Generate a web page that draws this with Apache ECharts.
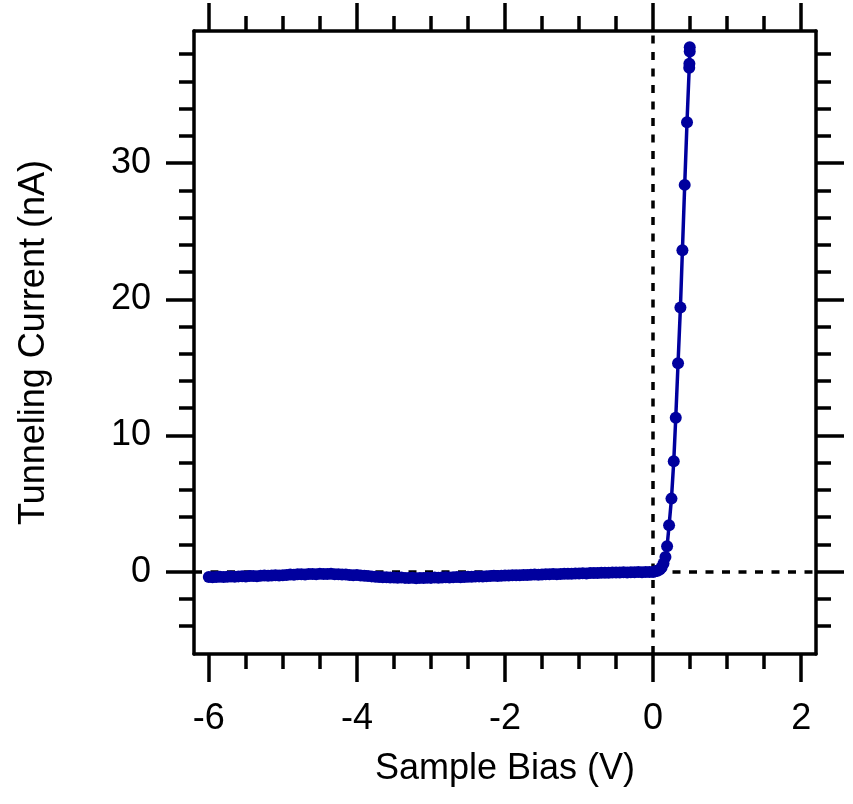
<!DOCTYPE html>
<html><head><meta charset="utf-8">
<script src="https://cdn.jsdelivr.net/npm/echarts@6/dist/echarts.min.js"></script>
<style>html,body{margin:0;padding:0;background:#fff}#c{width:853px;height:804px}</style>
</head><body><div id="c"></div>
<script>
// Sample bias (V) and tunneling current (nA)
const biasFlat = [
  -6.00,-5.95,-5.90,-5.85,-5.80,-5.75,-5.70,-5.65,-5.60,-5.55,-5.50,
  -5.45,-5.40,-5.35,-5.30,-5.25,-5.20,-5.15,-5.10,-5.05,-5.00,
  -4.95,-4.90,-4.85,-4.80,-4.75,-4.70,-4.65,-4.60,-4.55,-4.50,
  -4.45,-4.40,-4.35,-4.30,-4.25,-4.20,-4.15,-4.10,-4.05,-4.00,
  -3.95,-3.90,-3.85,-3.80,-3.75,-3.70,-3.65,-3.60,-3.55,-3.50,
  -3.45,-3.40,-3.35,-3.30,-3.25,-3.20,-3.15,-3.10,-3.05,-3.00,
  -2.95,-2.90,-2.85,-2.80,-2.75,-2.70,-2.65,-2.60,-2.55,-2.50,
  -2.45,-2.40,-2.35,-2.30,-2.25,-2.20,-2.15,-2.10,-2.05,-2.00,
  -1.95,-1.90,-1.85,-1.80,-1.75,-1.70,-1.65,-1.60,-1.55,-1.50,
  -1.45,-1.40,-1.35,-1.30,-1.25,-1.20,-1.15,-1.10,-1.05,-1.00,
  -0.95,-0.90,-0.85,-0.80,-0.75,-0.70,-0.65,-0.60,-0.55,-0.50,
  -0.45,-0.40,-0.35,-0.30,-0.25,-0.20,-0.15,-0.10,-0.05,0.00
];
const currentFlat = [
  -0.40,-0.41,-0.39,-0.38,-0.40,-0.37,-0.36,-0.38,-0.35,-0.34,-0.36,
  -0.33,-0.32,-0.34,-0.30,-0.29,-0.31,-0.28,-0.27,-0.29,-0.26,
  -0.24,-0.22,-0.23,-0.20,-0.19,-0.21,-0.18,-0.17,-0.19,-0.16,
  -0.17,-0.18,-0.16,-0.19,-0.20,-0.22,-0.21,-0.24,-0.26,-0.25,
  -0.28,-0.30,-0.33,-0.35,-0.38,-0.40,-0.42,-0.41,-0.44,-0.43,
  -0.45,-0.44,-0.46,-0.47,-0.45,-0.48,-0.46,-0.47,-0.45,-0.46,
  -0.44,-0.45,-0.43,-0.42,-0.44,-0.41,-0.40,-0.42,-0.39,-0.38,
  -0.37,-0.36,-0.35,-0.36,-0.34,-0.33,-0.31,-0.32,-0.30,-0.29,
  -0.28,-0.27,-0.26,-0.27,-0.25,-0.24,-0.23,-0.22,-0.23,-0.21,
  -0.20,-0.19,-0.18,-0.19,-0.17,-0.16,-0.15,-0.16,-0.14,-0.13,
  -0.12,-0.13,-0.11,-0.10,-0.11,-0.09,-0.08,-0.09,-0.07,-0.06,
  -0.07,-0.05,-0.06,-0.04,-0.05,-0.03,-0.04,-0.02,-0.03,-0.02
];
const biasRise = [0.03,0.06,0.09,0.115,0.14,0.167,0.189,0.216,0.248,0.279,0.306,0.337,0.369,0.396,0.427,0.458,0.488,0.490,0.495,0.495];
const currentRise = [0.02,0.07,0.15,0.30,0.60,1.07,1.86,3.40,5.36,8.10,11.3,15.3,19.4,23.6,28.4,33.0,37.0,37.3,38.2,38.5];

const xMajorTicks = [-6,-4,-2,0,2];
const xMinorTicks = [-5.5,-5,-4.5,-3.5,-3,-2.5,-1.5,-1,-0.5,0.5,1,1.5];
const yMajorTicks = [0,10,20,30];
const yMinorTicks = [-4,-2,2,4,6,8,12,14,16,18,22,24,26,28,32,34,36,38];
const xRange = [-6.2, 2.2];
const yRange = [-6.05, 39.7];
const xTitle = 'Sample Bias (V)';
const yTitle = 'Tunneling Current (nA)';

const FONT = '"Liberation Sans", Arial, Helvetica, sans-serif';
const INK = '#000';
const BLUE = '#00009E';
const LW = 3.5;

const seriesData = biasFlat.map((b, i) => [b, currentFlat[i]])
  .concat(biasRise.map((b, i) => [b, currentRise[i]]));

const gridRect = {left: 194, right: 37, top: 31, bottom: 150, outerBoundsMode: 'none', containLabel: false};

function xAxisDef(gridIndex, position, major) {
  return {
    type: 'value', gridIndex, position, min: xRange[0], max: xRange[1],
    axisLine: {show: major, onZero: false, lineStyle: {color: INK, width: LW}},
    axisTick: {show: true, inside: false, length: major ? 28 : 15, customValues: major ? xMajorTicks : xMinorTicks,
               lineStyle: {color: INK, width: LW}},
    axisLabel: (major && position === 'bottom') ? {show: true, customValues: xMajorTicks, margin: 47,
               color: INK, fontSize: 36, fontFamily: FONT} : {show: false},
    splitLine: {show: false},
    name: (major && position === 'bottom') ? xTitle : '',
    nameLocation: 'middle', nameGap: 97,
    nameTextStyle: {color: INK, fontSize: 36, fontFamily: FONT}
  };
}
function yAxisDef(gridIndex, position, major) {
  return {
    type: 'value', gridIndex, position, min: yRange[0], max: yRange[1],
    axisLine: {show: major, onZero: false, lineStyle: {color: INK, width: LW}},
    axisTick: {show: true, inside: false, length: major ? 28 : 15, customValues: major ? yMajorTicks : yMinorTicks,
               lineStyle: {color: INK, width: LW}},
    axisLabel: (major && position === 'left') ? {show: true, customValues: yMajorTicks, margin: 43,
               color: INK, fontSize: 36, fontFamily: FONT} : {show: false},
    splitLine: {show: false},
    name: (major && position === 'left') ? yTitle : '',
    nameLocation: 'middle', nameGap: 142,
    nameTextStyle: {color: INK, fontSize: 36, fontFamily: FONT}
  };
}

const chart = echarts.init(document.getElementById('c'), null, {renderer: 'canvas'});
chart.setOption({
  animation: false,
  backgroundColor: '#fff',
  grid: [Object.assign({}, gridRect), Object.assign({}, gridRect)],
  xAxis: [xAxisDef(0, 'bottom', true), xAxisDef(0, 'top', true), xAxisDef(1, 'bottom', false), xAxisDef(1, 'top', false)],
  yAxis: [yAxisDef(0, 'left', true), yAxisDef(0, 'right', true), yAxisDef(1, 'left', false), yAxisDef(1, 'right', false)],
  series: [{
    type: 'line', xAxisIndex: 0, yAxisIndex: 0, z: 3,
    data: seriesData,
    showSymbol: true, showAllSymbol: true, symbol: 'circle', symbolSize: 12,
    sampling: 'none',
    lineStyle: {color: BLUE, width: 3.5},
    itemStyle: {color: BLUE, borderWidth: 0},
    emphasis: {disabled: true},
    markLine: {
      silent: true, z: 1, symbol: ['none', 'none'], label: {show: false},
      lineStyle: {color: INK, width: 3.5, type: [8, 8.5]},
      emphasis: {disabled: true},
      data: [{xAxis: 0}, {yAxis: 0}]
    }
  }]
});
</script>
</body></html>
